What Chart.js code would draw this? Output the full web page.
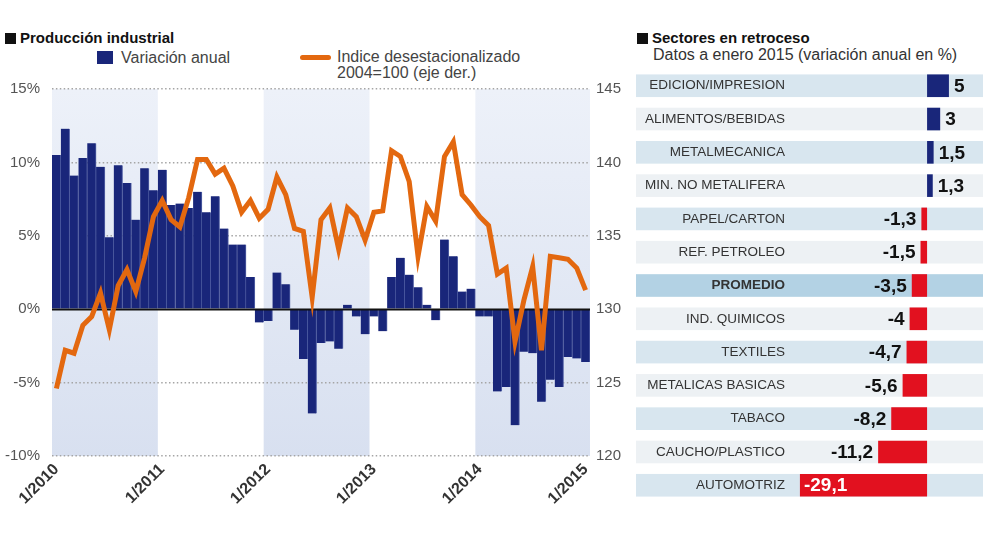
<!DOCTYPE html>
<html lang="es">
<head>
<meta charset="utf-8">
<title>Producción industrial</title>
<script src="https://cdn.jsdelivr.net/npm/chart.js@4.4.1/dist/chart.umd.min.js"></script>
<style>
  body { margin: 0; background: #fff; width: 987px; height: 555px; position: relative; overflow: hidden;
         font-family: "Liberation Sans", Arial, sans-serif; color: #333; }
  .abs { position: absolute; white-space: nowrap; }
  .title { font-weight: bold; font-size: 15px; color: #111; line-height: 16px; }
  .title .sq { display: inline-block; width: 11px; height: 11px; background: #111; margin-right: 4px; vertical-align: -1px; }
  .leg { font-size: 16px; color: #444; line-height: 16px; }
  #left { position: absolute; left: 0; top: 68px; }
  #right { position: absolute; left: 636px; top: 50px; }
</style>
</head>
<body>
<div class="abs title" style="left:5px; top:30px"><span class="sq"></span>Producción industrial</div>
<div class="abs" style="left:97px; top:51px; width:16px; height:13px; background:#19267a"></div>
<div class="abs leg" style="left:121px; top:50px">Variación anual</div>
<div class="abs" style="left:300px; top:55px; width:31px; height:5px; border-radius:3px; background:#e3680f"></div>
<div class="abs leg" style="left:337px; top:49px">Indice desestacionalizado</div>
<div class="abs leg" style="left:337px; top:65px">2004=100 (eje der.)</div>

<div class="abs title" style="left:637px; top:30px"><span class="sq"></span>Sectores en retroceso</div>
<div class="abs leg" style="left:653px; top:47px; color:#333">Datos a enero 2015 (variación anual en %)</div>

<canvas id="left" width="640" height="452"></canvas>
<canvas id="right" width="347" height="471"></canvas>

<script>
const meses = [
  "1/2010","2/2010","3/2010","4/2010","5/2010","6/2010","7/2010","8/2010","9/2010","10/2010","11/2010","12/2010",
  "1/2011","2/2011","3/2011","4/2011","5/2011","6/2011","7/2011","8/2011","9/2011","10/2011","11/2011","12/2011",
  "1/2012","2/2012","3/2012","4/2012","5/2012","6/2012","7/2012","8/2012","9/2012","10/2012","11/2012","12/2012",
  "1/2013","2/2013","3/2013","4/2013","5/2013","6/2013","7/2013","8/2013","9/2013","10/2013","11/2013","12/2013",
  "1/2014","2/2014","3/2014","4/2014","5/2014","6/2014","7/2014","8/2014","9/2014","10/2014","11/2014","12/2014",
  "1/2015"
];

// variación anual (%), eje izquierdo
const variacionAnual = [
  10.5, 12.3, 9.1, 10.3, 11.3, 9.7, 4.9, 9.8, 8.6, 6.1, 9.6, 8.1,
  9.5, 7.1, 7.2, 6.9, 8.0, 6.6, 7.7, 5.5, 4.4, 4.4, 2.2, -0.9,
  -0.8, 2.5, 1.7, -1.4, -3.4, -7.1, -2.3, -2.2, -2.7, 0.3, -0.5, -1.7,
  -0.5, -1.5, 2.2, 3.5, 2.35, 1.5, 0.3, -0.75, 4.75, 3.6, 1.2, 1.4,
  -0.5, -0.5, -5.6, -5.3, -7.9, -2.9, -3.0, -6.3, -4.8, -5.3, -3.25, -3.35,
  -3.6
];

// indice desestacionalizado 2004=100, eje derecho
const indice = [
  124.6, 127.2, 127.0, 128.9, 129.5, 131.1, 128.6, 131.6, 132.7, 131.2, 133.5, 136.3,
  137.4, 136.1, 135.6, 137.6, 140.2, 140.2, 139.2, 139.6, 138.4, 136.6, 137.4, 136.2,
  136.8, 139.0, 137.8, 135.5, 135.3, 130.8, 136.1, 136.9, 134.1, 136.9, 136.3, 134.7,
  136.6, 136.7, 140.8, 140.4, 138.7, 133.6, 137.0, 136.0, 140.4, 141.4, 137.8, 137.1,
  136.3, 135.7, 132.4, 132.8, 127.8, 130.6, 132.9, 127.2, 133.6, 133.5, 133.4, 132.8,
  131.3
];

const ticksIzq = [-10, 15, 5];   // min, max, paso
const ticksDer = [120, 145, 5];

// años sombreados (índices de mes: desde, hasta)
const bandas = [[0, 12], [24, 36], [48, 61]];

const sectores = [
  "EDICION/IMPRESION", "ALIMENTOS/BEBIDAS", "METALMECANICA", "MIN. NO METALIFERA",
  "PAPEL/CARTON", "REF. PETROLEO", "PROMEDIO", "IND. QUIMICOS", "TEXTILES",
  "METALICAS BASICAS", "TABACO", "CAUCHO/PLASTICO", "AUTOMOTRIZ"
];
const variacionSector = [5, 3, 1.5, 1.3, -1.3, -1.5, -3.5, -4, -4.7, -5.6, -8.2, -11.2, -29.1];

const AZUL = "#19267a";
const NARANJA = "#e3680f";
const ROJO = "#e2111f";

Chart.defaults.font.family = '"Liberation Sans", Arial, sans-serif';

const bandPlugin = {
  id: "bandas",
  beforeDraw(chart) {
    const { ctx, chartArea: a, scales: { x } } = chart;
    const half = (x.getPixelForValue(1) - x.getPixelForValue(0)) / 2;
    const g = ctx.createLinearGradient(0, a.top, 0, a.bottom);
    g.addColorStop(0, "#edf1f9");
    g.addColorStop(1, "#d8e0f0");
    ctx.save();
    ctx.fillStyle = g;
    bandas.forEach(([d, h]) => {
      const x0 = x.getPixelForValue(d) - half;
      const x1 = Math.min(x.getPixelForValue(h) - half, a.right);
      ctx.fillRect(x0, a.top, x1 - x0, a.bottom - a.top);
    });
    ctx.restore();
  },
  afterDatasetDraw(chart, args) {
    if (args.index !== 0) return;
    const { ctx, chartArea: a, scales: { y } } = chart;
    const y0 = Math.round(y.getPixelForValue(0)) + 0.5;
    ctx.save();
    ctx.strokeStyle = "#111";
    ctx.lineWidth = 2;
    ctx.beginPath();
    ctx.moveTo(a.left, y0);
    ctx.lineTo(a.right, y0);
    ctx.stroke();
    ctx.restore();
  }
};

new Chart(document.getElementById("left"), {
  data: {
    labels: meses,
    datasets: [
      {
        type: "bar",
        label: "Variación anual",
        data: variacionAnual,
        yAxisID: "y",
        backgroundColor: AZUL,
        borderColor: "#5563a6",
        borderWidth: { left: 0, right: 1, top: 0, bottom: 0 },
        borderSkipped: false,
        barPercentage: 1,
        categoryPercentage: 1,
        order: 1
      },
      {
        type: "line",
        label: "Indice desestacionalizado",
        data: indice,
        yAxisID: "y1",
        borderColor: NARANJA,
        borderWidth: 5,
        pointRadius: 0,
        tension: 0,
        order: 0
      }
    ]
  },
  options: {
    responsive: false,
    animation: false,
    layout: { padding: 0 },
    plugins: { legend: { display: false }, tooltip: { enabled: false } },
    scales: {
      x: {
        grid: { display: false, drawTicks: false },
        border: { display: false },
        ticks: {
          autoSkip: false, maxRotation: 45, minRotation: 45, padding: 4,
          color: "#333", font: { size: 16, weight: "bold" },
          callback: (v, i) => (i % 12 === 0 ? meses[i] : "")
        },
        afterFit: s => { s.height = 64; }
      },
      y: {
        position: "left",
        min: ticksIzq[0], max: ticksIzq[1],
        ticks: { stepSize: ticksIzq[2], padding: 12, color: "#555", font: { size: 15 }, callback: v => v + "%" },
        grid: { drawTicks: false, lineWidth: 1.5, color: c => (c.tick.value === 0 ? "rgba(0,0,0,0)" : "#a5a5a5") },
        border: { display: false, dash: [1.5, 2.4] },
        afterFit: s => { s.width = 52; }
      },
      y1: {
        position: "right",
        min: ticksDer[0], max: ticksDer[1],
        ticks: { stepSize: ticksDer[2], padding: 6, color: "#555", font: { size: 15 } },
        grid: { display: false, drawTicks: false },
        border: { display: false },
        afterFit: s => { s.width = 50; }
      }
    }
  },
  plugins: [bandPlugin]
});

const fmt = v => String(v).replace(".", ",");

const rowPlugin = {
  id: "filas",
  beforeDraw(chart) {
    const { ctx, scales: { y } } = chart;
    const h = (y.getPixelForValue(1) - y.getPixelForValue(0)) * 0.68;
    ctx.save();
    sectores.forEach((s, i) => {
      if (s === "PROMEDIO") ctx.fillStyle = "#b3d2e4";
      else ctx.fillStyle = i % 2 === 0 ? "#d8e6ef" : "#edf1f4";
      const yc = y.getPixelForValue(i);
      ctx.fillRect(0, yc - h / 2, chart.width, h);
    });
    ctx.restore();
  },
  afterDatasetsDraw(chart) {
    const { ctx } = chart;
    const meta = chart.getDatasetMeta(0);
    ctx.save();
    ctx.font = 'bold 19px "Liberation Sans", Arial, sans-serif';
    ctx.textBaseline = "middle";
    meta.data.forEach((bar, i) => {
      const v = variacionSector[i];
      if (v >= 0) {
        ctx.fillStyle = "#111"; ctx.textAlign = "left";
        ctx.fillText(fmt(v), bar.x + 5, bar.y + 1);
      } else if (v < -20) {
        ctx.fillStyle = "#fff"; ctx.textAlign = "left";
        ctx.fillText(fmt(v), bar.x + 4, bar.y + 1);
      } else {
        ctx.fillStyle = "#111"; ctx.textAlign = "right";
        ctx.fillText(fmt(v), bar.x - 5, bar.y + 1);
      }
    });
    ctx.restore();
  }
};

new Chart(document.getElementById("right"), {
  type: "bar",
  data: {
    labels: sectores,
    datasets: [{
      data: variacionSector,
      backgroundColor: c => (c.raw >= 0 ? AZUL : ROJO),
      barPercentage: 0.68,
      categoryPercentage: 1
    }]
  },
  options: {
    indexAxis: "y",
    responsive: false,
    animation: false,
    layout: { padding: 0 },
    plugins: { legend: { display: false }, tooltip: { enabled: false } },
    scales: {
      x: { display: false, min: -30, max: 12.8 },
      y: {
        grid: { display: false, drawTicks: false },
        border: { display: false },
        ticks: {
          padding: 11, color: "#333",
          font: c => ({ size: 13.5, weight: c.tick && c.tick.label === "PROMEDIO" ? "bold" : "normal" })
        },
        afterFit: s => { s.width = 160; }
      }
    }
  },
  plugins: [rowPlugin]
});
</script>
</body>
</html>
